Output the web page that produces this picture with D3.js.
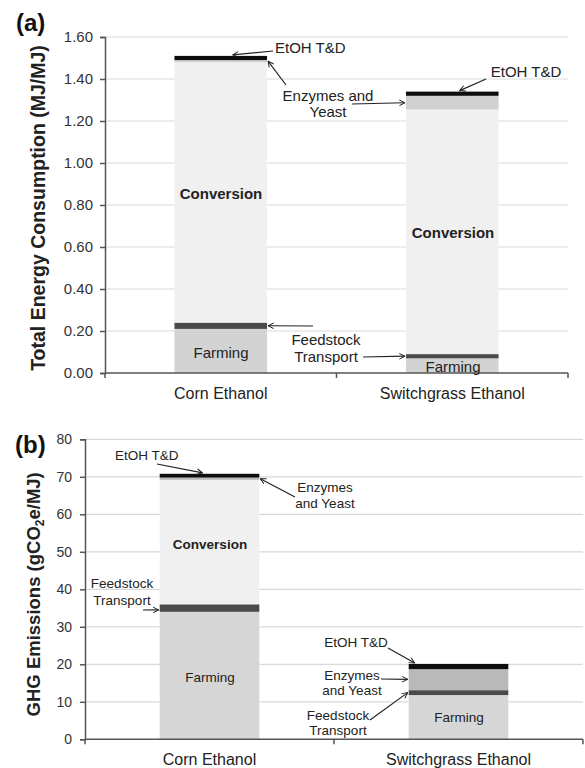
<!DOCTYPE html>
<html>
<head>
<meta charset="utf-8">
<script src="https://d3js.org/d3.v7.min.js"></script>
<style>
  body { margin: 0; background: #fff; }
  svg { font-family: "Liberation Sans", Arial, sans-serif; }
  .tick text { fill: #333; }
  .note { fill: #222; }
</style>
</head>
<body>
<div id="chart"></div>
<script>
// ---- data ----
var categories = ["Corn Ethanol", "Switchgrass Ethanol"];
var stages = ["Farming", "Feedstock Transport", "Conversion", "Enzymes and Yeast", "EtOH T&D"];

// (a) total energy consumption, MJ/MJ
var energyFarming    = [0.21, 0.07];
var energyTransport  = [0.03, 0.02];
var energyConversion = [1.24, 1.165];
var energyEnzymes    = [0.01, 0.065];
var energyTD         = [0.02, 0.02];
var energyTicks = [0, 0.2, 0.4, 0.6, 0.8, 1.0, 1.2, 1.4, 1.6];

// (b) GHG emissions, gCO2e/MJ
var ghgFarming    = [34, 11.8];
var ghgTransport  = [2, 1.3];
var ghgConversion = [33.2, 0];
var ghgEnzymes    = [0.6, 5.6];
var ghgTD         = [1.0, 1.4];
var ghgTicks = [0, 10, 20, 30, 40, 50, 60, 70, 80];

var colorsA = ["#d3d3d3", "#4a4a4a", "#f0f0f0", "#d0d0d0", "#0d0d0d"];
var colorsB = ["#d6d6d6", "#4a4a4a", "#f0f0f0", "#b9b9b9", "#0d0d0d"];

function rows(series) {
  return categories.map(function(c, i) {
    var r = { category: c };
    stages.forEach(function(s, k) { r[s] = series[k][i]; });
    return r;
  });
}

var svg = d3.select("#chart").append("svg")
    .attr("width", 585)
    .attr("height", 768);

var defs = svg.append("defs");
defs.append("marker")
    .attr("id", "arrow")
    .attr("viewBox", "0 0 10 10")
    .attr("refX", 9).attr("refY", 5)
    .attr("markerWidth", 7).attr("markerHeight", 7)
    .attr("markerUnits", "userSpaceOnUse")
    .attr("orient", "auto")
  .append("path")
    .attr("d", "M1,1 L9,5 L1,9")
    .attr("fill", "none")
    .attr("stroke", "#222")
    .attr("stroke-width", 1.4);

function panel(opts) {
  var g = svg.append("g");
  var x = d3.scaleBand().domain(categories).range([opts.left, opts.right]).padding(0);
  var y = d3.scaleLinear().domain(opts.domain).range([opts.bottom, opts.top]);
  var barW = x.bandwidth() * 0.4;
  function bx(c) { return x(c) + (x.bandwidth() - barW) / 2; }

  // gridlines
  g.append("g").selectAll("line")
      .data(opts.ticks.slice(1))
      .enter().append("line")
      .attr("x1", opts.left).attr("x2", opts.right)
      .attr("y1", function(d) { return y(d); })
      .attr("y2", function(d) { return y(d); })
      .attr("stroke", "#d9d9d9").attr("stroke-width", 1.2);

  var stack = d3.stack().keys(stages)(rows(opts.series));
  g.append("g").selectAll("g")
      .data(stack)
      .enter().append("g")
      .attr("fill", function(d, i) { return opts.colors[i]; })
    .selectAll("rect")
      .data(function(d) { return d; })
      .enter().append("rect")
      .attr("x", function(d) { return bx(d.data.category); })
      .attr("width", barW)
      .attr("y", function(d) { return y(d[1]); })
      .attr("height", function(d) { return Math.max(0, y(d[0]) - y(d[1])); });

  // y axis
  var yAxis = g.append("g")
      .attr("transform", "translate(" + opts.left + ",0)")
      .call(d3.axisLeft(y).tickValues(opts.ticks).tickFormat(opts.format)
        .tickSize(5).tickPadding(opts.tickPad));
  yAxis.selectAll("text").attr("font-size", opts.tickFont).attr("font-family", null);
  yAxis.selectAll("line,path").attr("stroke", "#555").attr("stroke-width", 1.5);

  // x axis with ticks at band edges
  var xg = g.append("g").attr("transform", "translate(0," + opts.bottom + ")");
  xg.append("line").attr("x1", opts.left).attr("x2", opts.right)
      .attr("stroke", "#555").attr("stroke-width", 1.5);
  xg.selectAll(".edge")
      .data([opts.left, x(categories[1]), opts.right])
      .enter().append("line")
      .attr("x1", function(d) { return d; }).attr("x2", function(d) { return d; })
      .attr("y1", 0).attr("y2", 5)
      .attr("stroke", "#555").attr("stroke-width", 1.5);
  xg.selectAll("text")
      .data(categories)
      .enter().append("text")
      .attr("x", function(d) { return x(d) + x.bandwidth() / 2; })
      .attr("y", 26)
      .attr("text-anchor", "middle")
      .attr("font-size", 16)
      .attr("fill", "#222")
      .text(function(d) { return d; });

  // panel letter
  g.append("text")
      .attr("x", opts.letterX).attr("y", opts.letterY)
      .attr("font-size", 24).attr("font-weight", "bold").attr("fill", "#111")
      .text(opts.letter);

  // y title
  var yt = g.append("text")
      .attr("transform", "translate(" + opts.titleX + "," + ((opts.top + opts.bottom) / 2 + opts.titleShift) + ") rotate(-90)")
      .attr("text-anchor", "middle")
      .attr("font-size", opts.titleFont)
      .attr("font-weight", "bold")
      .attr("fill", "#222");
  opts.title(yt);

  // annotations
  var notes = g.append("g").attr("font-size", opts.noteFont);
  opts.labels.forEach(function(l) {
    var t = notes.append("text").attr("class", "note")
        .attr("x", l.x).attr("y", l.y)
        .attr("text-anchor", l.anchor || "middle")
        .attr("font-weight", l.bold ? "bold" : null);
    l.lines.forEach(function(s, i) {
      t.append("tspan").attr("x", l.x).attr("dy", i === 0 ? 0 : l.lh).text(s);
    });
  });
  opts.arrows.forEach(function(a) {
    var ci = categories.indexOf(a.cat);
    var tx;
    if (a.side === "right") tx = bx(a.cat) + barW + 1;
    else if (a.side === "left") tx = bx(a.cat) - 1;
    else tx = bx(a.cat) + barW * a.frac;
    notes.append("line")
        .attr("x1", a.from[0]).attr("y1", a.from[1])
        .attr("x2", tx).attr("y2", y(a.value) - (a.side ? 0 : 1))
        .attr("stroke", "#222").attr("stroke-width", 1.2)
        .attr("marker-end", "url(#arrow)");
  });
}

var cornA = categories[0], swA = categories[1];

panel({
  letter: "(a)", letterX: 16, letterY: 31,
  left: 105, right: 568, top: 37, bottom: 373,
  domain: [0, 1.6], ticks: energyTicks, format: d3.format(".2f"),
  series: [energyFarming, energyTransport, energyConversion, energyEnzymes, energyTD],
  colors: colorsA, tickFont: 15, tickPad: 7, noteFont: 15,
  titleX: 45, titleShift: 3, titleFont: 19.5,
  title: function(t) { t.text("Total Energy Consumption  (MJ/MJ)"); },
  labels: [
    { x: 275, y: 53, anchor: "start", lines: ["EtOH T&D"] },
    { x: 328, y: 101, lh: 16, lines: ["Enzymes  and", "Yeast"] },
    { x: 526, y: 77, lines: ["EtOH T&D"] },
    { x: 326, y: 345, lh: 17, lines: ["Feedstock", "Transport"] },
    { x: 221, y: 199, bold: true, lines: ["Conversion"] },
    { x: 453, y: 238, bold: true, lines: ["Conversion"] },
    { x: 221, y: 358, lines: ["Farming"] },
    { x: 453, y: 372, lines: ["Farming"] }
  ],
  arrows: [
    { cat: cornA, frac: 0.63, value: 1.51, from: [273, 51] },
    { cat: cornA, side: "right", value: 1.485, from: [286, 85] },
    { cat: swA, side: "left", value: 1.287, from: [352, 104] },
    { cat: swA, frac: 0.58, value: 1.34, from: [486, 79] },
    { cat: cornA, side: "right", value: 0.225, from: [313, 326] },
    { cat: swA, side: "left", value: 0.08, from: [363, 357] }
  ]
});

panel({
  letter: "(b)", letterX: 15, letterY: 453,
  left: 85, right: 583, top: 439.3, bottom: 739.3,
  domain: [0, 80], ticks: ghgTicks, format: d3.format("d"),
  series: [ghgFarming, ghgTransport, ghgConversion, ghgEnzymes, ghgTD],
  colors: colorsB, tickFont: 14, tickPad: 8, noteFont: 13.5,
  titleX: 40, titleShift: 5, titleFont: 18.5,
  title: function(t) {
    t.append("tspan").text("GHG Emissions  (gCO");
    t.append("tspan").attr("font-size", "0.65em").attr("dy", 4).text("2");
    t.append("tspan").attr("dy", -4).text("e/MJ)");
  },
  labels: [
    { x: 115, y: 460, anchor: "start", lines: ["EtOH T&D"] },
    { x: 325, y: 492, lh: 16, lines: ["Enzymes", "and Yeast"] },
    { x: 210, y: 549, bold: true, lines: ["Conversion"] },
    { x: 122, y: 588, lh: 17, lines: ["Feedstock", "Transport"] },
    { x: 210, y: 682, lines: ["Farming"] },
    { x: 356, y: 647, lines: ["EtOH T&D"] },
    { x: 352, y: 680, lh: 15, lines: ["Enzymes", "and Yeast"] },
    { x: 338, y: 720, lh: 15, lines: ["Feedstock", "Transport"] },
    { x: 459, y: 722, lines: ["Farming"] }
  ],
  arrows: [
    { cat: cornA, frac: 0.43, value: 70.8, from: [157, 464] },
    { cat: cornA, side: "right", value: 69.5, from: [295, 497] },
    { cat: cornA, side: "left", value: 34.5, from: [143, 610] },
    { cat: swA, frac: 0.06, value: 20.1, from: [388, 648] },
    { cat: swA, side: "left", value: 16, from: [381, 679] },
    { cat: swA, side: "left", value: 12.45, from: [370, 720] }
  ]
});
</script>
</body>
</html>
